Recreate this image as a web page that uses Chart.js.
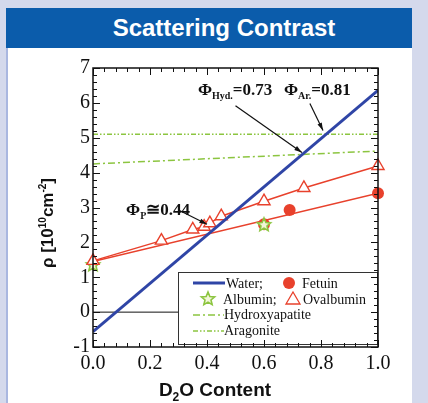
<!DOCTYPE html>
<html>
<head>
<meta charset="utf-8">
<script src="https://cdn.jsdelivr.net/npm/chart.js@4.4.1/dist/chart.umd.min.js"></script>
<style>
html, body { margin: 0; padding: 0; }
body { width: 428px; height: 403px; background: #d4d9ec; position: relative; overflow: hidden; }
#panel { position: absolute; left: 6px; top: 8px; width: 406px; height: 395px; background: #fff; border-left: 2px solid #a9b7e0; box-sizing: border-box; }
#head { position: absolute; left: 6px; top: 8px; width: 406px; height: 40px; background: #0b5cab; color: #fff;
        font: bold 24px "Liberation Sans", Arial, sans-serif; text-align: center; line-height: 40px; padding-left: 30px; box-sizing: border-box; }
#chart { position: absolute; left: 0; top: 0; }
</style>
</head>
<body>
<div id="panel"></div>
<div id="head">Scattering Contrast</div>
<canvas id="chart" width="428" height="403"></canvas>
<script>
// --- data ---
const xEnds = [0, 1];
const waterRho = [-0.56, 6.36];
const hydroxyRho = [4.25, 4.62];
const aragoniteRho = [5.1, 5.1];
const zeroRho = [0, 0];
const fetuinFitRho = [1.45, 3.41];

const ovalX = [0, 0.24, 0.35, 0.39, 0.41, 0.45, 0.60, 0.74, 1.0];
const ovalRho = [1.47, 2.05, 2.37, 2.45, 2.55, 2.75, 3.18, 3.56, 4.19];
const albuminX = [0, 0.6];
const albuminRho = [1.35, 2.5];
const fetuinX = [0.6, 0.69, 1.0];
const fetuinRho = [2.52, 2.93, 3.41];

const legendLabels = ['Water;', 'Fetuin', 'Albumin;', 'Ovalbumin', 'Hydroxyapatite', 'Aragonite'];

// annotation text + arrow (from -> to), in data units
const notes = [
    { sub: 'Hyd.', val: '=0.73', at: [0.368, 6.22], from: [0.50, 5.92], to: [0.733, 4.58] },
    { sub: 'Ar.',  val: '=0.81', at: [0.67, 6.22],  from: [0.761, 5.98], to: [0.807, 5.21] },
    { sub: 'P',    val: '\u22450.44', at: [0.116, 2.79], from: [0.30, 2.93], to: [0.40, 2.52] }
];

const BLUE = '#2f45a6', RED = '#e8412c', GREEN = '#8cc540';
const SERIF = '"Liberation Serif", "Times New Roman", serif';
const SANS = '"Liberation Sans", Arial, sans-serif';

const pts = (xs, ys) => xs.map((x, i) => ({ x: x, y: ys[i] }));

function starImage(r) {
    const c = document.createElement('canvas');
    c.width = c.height = r * 2 + 4;
    const g = c.getContext('2d');
    g.beginPath();
    for (let i = 0; i < 10; i++) {
        const a = -Math.PI / 2 + i * Math.PI / 5;
        const rr = i % 2 ? r * 0.45 : r;
        g.lineTo(r + 2 + rr * Math.cos(a), r + 2 + rr * Math.sin(a));
    }
    g.closePath();
    g.fillStyle = '#f2f6d8';
    g.fill();
    g.strokeStyle = GREEN;
    g.lineWidth = 1.6;
    g.stroke();
    return c;
}
const star = starImage(7);

function lineSet(ys, color, width, dash, order) {
    return { data: pts(xEnds, ys), showLine: true, pointRadius: 0, borderColor: color,
             borderWidth: width, borderDash: dash, order: order };
}

// draws mixed-size text runs; returns width
function runs(ctx, parts, x, y, measureOnly) {
    let w = 0;
    parts.forEach(p => {
        ctx.font = p.f;
        if (!measureOnly) ctx.fillText(p.t, x + w, y + (p.dy || 0));
        w += ctx.measureText(p.t).width;
    });
    return w;
}

function drawLegendSym(ctx, kind, x, y) {
    ctx.save();
    if (kind === 'water') {
        ctx.strokeStyle = BLUE; ctx.lineWidth = 3;
        ctx.beginPath(); ctx.moveTo(x, y); ctx.lineTo(x + 32, y); ctx.stroke();
    } else if (kind === 'hyd' || kind === 'ar') {
        ctx.strokeStyle = GREEN; ctx.lineWidth = 1.5;
        ctx.setLineDash(kind === 'hyd' ? [7, 3, 2, 3] : [5, 2, 1.5, 2, 1.5, 2]);
        ctx.beginPath(); ctx.moveTo(x, y); ctx.lineTo(x + 31, y); ctx.stroke();
    } else if (kind === 'fetuin') {
        ctx.fillStyle = RED;
        ctx.beginPath(); ctx.arc(x, y, 6, 0, Math.PI * 2); ctx.fill();
    } else if (kind === 'albumin') {
        ctx.drawImage(star, x - star.width / 2, y - star.height / 2);
    } else if (kind === 'oval') {
        ctx.strokeStyle = RED; ctx.lineWidth = 1.3;
        ctx.beginPath(); ctx.moveTo(x, y - 7); ctx.lineTo(x + 7, y + 5); ctx.lineTo(x - 7, y + 5); ctx.closePath(); ctx.stroke();
    }
    ctx.restore();
}

const decor = {
    id: 'decor',
    afterDatasetsDraw(chart) {
        const ctx = chart.ctx, a = chart.chartArea;
        const xs = chart.scales.x, ys = chart.scales.y;
        ctx.save();
        // legend box
        const lx = a.right - 200, ly = a.bottom - 75;
        ctx.fillStyle = '#fff';
        ctx.fillRect(lx, ly, 200, 73);
        ctx.strokeStyle = '#333'; ctx.lineWidth = 1;
        ctx.strokeRect(lx + 0.5, ly + 0.5, 199, 72);
        ctx.fillStyle = '#111';
        ctx.font = '14px ' + SERIF;
        ctx.textBaseline = 'alphabetic';
        drawLegendSym(ctx, 'water', lx + 15, ly + 11);
        ctx.fillText(legendLabels[0], lx + 48, ly + 16);
        drawLegendSym(ctx, 'fetuin', lx + 111, ly + 11);
        ctx.fillText(legendLabels[1], lx + 124, ly + 16);
        drawLegendSym(ctx, 'albumin', lx + 30, ly + 27);
        ctx.fillText(legendLabels[2], lx + 45, ly + 32);
        drawLegendSym(ctx, 'oval', lx + 115, ly + 27);
        ctx.fillText(legendLabels[3], lx + 125, ly + 32);
        drawLegendSym(ctx, 'hyd', lx + 15, ly + 43);
        ctx.fillText(legendLabels[4], lx + 46, ly + 47);
        drawLegendSym(ctx, 'ar', lx + 15, ly + 59);
        ctx.fillText(legendLabels[5], lx + 46, ly + 63);

        // annotations
        notes.forEach(n => {
            const tx = xs.getPixelForValue(n.at[0]), ty = ys.getPixelForValue(n.at[1]);
            ctx.fillStyle = '#111';
            runs(ctx, [
                { t: '\u03A6', f: 'bold 17px ' + SERIF },
                { t: n.sub, f: 'bold 10px ' + SERIF, dy: 4 },
                { t: n.val, f: 'bold 17px ' + SERIF }
            ], tx, ty);
            const x0 = xs.getPixelForValue(n.from[0]), y0 = ys.getPixelForValue(n.from[1]);
            const x1 = xs.getPixelForValue(n.to[0]), y1 = ys.getPixelForValue(n.to[1]);
            ctx.strokeStyle = '#111'; ctx.lineWidth = 1.2;
            ctx.beginPath(); ctx.moveTo(x0, y0); ctx.lineTo(x1, y1); ctx.stroke();
            const ang = Math.atan2(y1 - y0, x1 - x0);
            ctx.beginPath();
            ctx.moveTo(x1, y1);
            ctx.lineTo(x1 - 8 * Math.cos(ang - 0.3), y1 - 8 * Math.sin(ang - 0.3));
            ctx.lineTo(x1 - 8 * Math.cos(ang + 0.3), y1 - 8 * Math.sin(ang + 0.3));
            ctx.closePath(); ctx.fill();
        });
        ctx.restore();
    },
    afterDraw(chart) {
        const ctx = chart.ctx, a = chart.chartArea;
        const xs = chart.scales.x, ys = chart.scales.y;
        ctx.save();
        ctx.strokeStyle = '#111';
        ctx.lineWidth = 1.5;
        ctx.strokeRect(a.left, a.top, a.right - a.left, a.bottom - a.top);
        ctx.lineWidth = 1;
        ctx.beginPath();
        for (let i = 0; i <= 25; i++) {
            const px = Math.round(xs.getPixelForValue(i * 0.04)) + 0.5;
            const len = i % 5 === 0 ? 7 : 4;
            ctx.moveTo(px, a.bottom); ctx.lineTo(px, a.bottom - len);
            ctx.moveTo(px, a.top); ctx.lineTo(px, a.top + len);
        }
        for (let i = 0; i <= 40; i++) {
            const py = Math.round(ys.getPixelForValue(-1 + i * 0.2)) + 0.5;
            const len = i % 5 === 0 ? 7 : 4;
            ctx.moveTo(a.left, py); ctx.lineTo(a.left + len, py);
            ctx.moveTo(a.right, py); ctx.lineTo(a.right - len, py);
        }
        ctx.stroke();

        // axis titles
        ctx.fillStyle = '#111';
        ctx.textBaseline = 'alphabetic';
        const xt = [
            { t: 'D', f: 'bold 19px ' + SANS },
            { t: '2', f: 'bold 12px ' + SANS, dy: 5 },
            { t: 'O Content', f: 'bold 19px ' + SANS }
        ];
        const wx = runs(ctx, xt, 0, 0, true);
        runs(ctx, xt, 215 - wx / 2, 396);

        const yt = [
            { t: '\u03C1 [10', f: 'bold 17px ' + SANS },
            { t: '10', f: 'bold 10px ' + SANS, dy: -7 },
            { t: 'cm', f: 'bold 17px ' + SANS },
            { t: '-2', f: 'bold 10px ' + SANS, dy: -7 },
            { t: ']', f: 'bold 17px ' + SANS }
        ];
        ctx.translate(53, 223);
        ctx.rotate(-Math.PI / 2);
        const wy = runs(ctx, yt, 0, 0, true);
        runs(ctx, yt, -wy / 2, 0);
        ctx.restore();
    }
};

new Chart(document.getElementById('chart'), {
    type: 'scatter',
    data: {
        datasets: [
            lineSet(waterRho, BLUE, 3, [], 1),
            { data: pts(ovalX, ovalRho), showLine: true, pointStyle: 'triangle', pointRadius: 7,
              pointBackgroundColor: '#fff', pointBorderColor: RED, pointBorderWidth: 1.4,
              borderColor: RED, borderWidth: 1.5, order: 2, clip: false },
            { data: pts(albuminX, albuminRho), pointStyle: star, pointRadius: 7, order: 3, clip: false },
            { data: pts(fetuinX, fetuinRho), pointStyle: 'circle', pointRadius: 6,
              backgroundColor: RED, borderColor: RED, borderWidth: 0, order: 4, clip: false },
            lineSet(fetuinFitRho, RED, 1.5, [], 5),
            lineSet(hydroxyRho, GREEN, 1.5, [7, 3, 2, 3], 6),
            lineSet(aragoniteRho, GREEN, 1.5, [5, 2, 1.5, 2, 1.5, 2], 7),
            lineSet(zeroRho, '#111', 1, [], 8)
        ]
    },
    options: {
        responsive: false,
        animation: false,
        events: [],
        layout: { padding: { top: 68, right: 50, left: 0, bottom: 0 } },
        plugins: { legend: { display: false }, tooltip: { enabled: false } },
        scales: {
            x: {
                type: 'linear', min: 0, max: 1,
                grid: { display: false, drawTicks: false },
                border: { display: false },
                ticks: { stepSize: 0.2, autoSkip: false, maxRotation: 0, padding: 5, color: '#111',
                         font: { family: SERIF, size: 20 }, callback: v => v.toFixed(1) },
                afterFit: s => { s.height = 56; }
            },
            y: {
                min: -1, max: 7,
                grid: { display: false, drawTicks: false },
                border: { display: false },
                ticks: { stepSize: 1, padding: 3, color: '#111', font: { family: SERIF, size: 20 } },
                afterFit: s => { s.width = 93; }
            }
        }
    },
    plugins: [decor]
});
</script>
</body>
</html>
